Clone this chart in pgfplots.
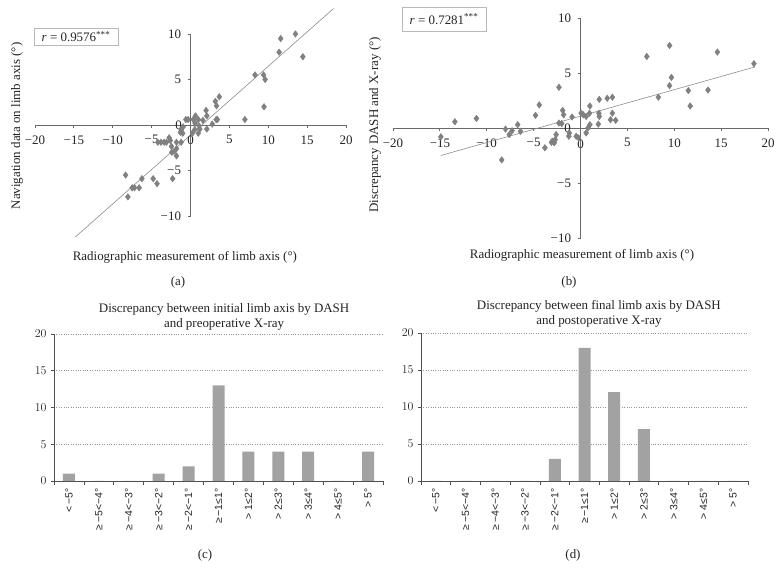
\documentclass[border=0pt]{standalone}
\usepackage{fontspec}
\setmainfont{Liberation Serif}
\newfontfamily\sansf{Liberation Sans}
\usepackage{pgfplots}
\pgfplotsset{compat=1.18}
\definecolor{mk}{RGB}{128,128,128}
\definecolor{axcol}{RGB}{105,105,105}
\definecolor{regcol}{RGB}{140,140,140}
\definecolor{boxcol}{RGB}{185,185,185}
\definecolor{barcol}{RGB}{162,162,162}
\definecolor{barax}{RGB}{80,80,80}
\definecolor{gridcol}{RGB}{150,150,150}
\definecolor{txt}{RGB}{35,35,35}
\pgfplotsset{
  scat/.style={
    scale only axis,
    xmin=-20, xmax=20, ymin=-10, ymax=10,
    axis lines=middle,
    axis line style={-, axcol, line width=0.8pt},
    xtick={-20,-15,...,20}, xticklabels={−20,−15,−10,−5,,5,10,15,20},
    ytick={-10,-5,0,5,10}, yticklabels={−10,−5,,5,10},
    xticklabel style={yshift=-3bp},
    yticklabel style={xshift=-2bp},
    tick align=outside, major tick length=3bp,
    tick style={axcol, line width=0.8pt},
    clip=false,
  },
  bars/.style={
    scale only axis,
    xmin=-0.5, xmax=10.5, ymin=0, ymax=20,
    axis x line=bottom, axis y line=left,
    axis line style={-, barax, line width=0.8pt},
    ytick={0,5,...,20},
    ymajorgrids, grid style={dotted, gridcol, line width=0.7pt},
    xtick={0,...,10},
    xticklabels={<\,−5°, ≥\,−5<−4°, ≥\,−4<−3°, ≥\,−3<−2°, ≥\,−2<−1°, ≥\,−1≤1°, > 1≤2°, > 2≤3°, > 3≤4°, > 4≤5°, > 5°},
    xticklabel style={rotate=90, anchor=east, font=\sansf\fontsize{10.5}{12}\selectfont},
    minor xtick={-0.5,0.5,...,10.5},
    major x tick style={draw=none},
    minor x tick style={barax, line width=0.8pt},
    y tick style={barax, line width=0.8pt},
    tick align=outside, major tick length=3bp, minor tick length=4bp,
    ybar, bar width=12bp,
  },
}
\begin{document}
\fontsize{13}{15.6}\selectfont
\begin{tikzpicture}[every node/.style={text=txt}]
\path[use as bounding box] (0,0) rectangle (783bp,580bp);

% ---------- (a) ----------
\begin{axis}[scat,
  at={(35bp,364bp)}, anchor=south west,
  width=311bp, height=182bp,
  every axis x label/.style={at={(axis description cs:0.482,-0.225)}, anchor=center},
  every axis y label/.style={at={(axis description cs:-0.058,0.495)}, anchor=center, rotate=90},
  xlabel={Radiographic measurement of limb axis (°)},
  ylabel={Navigation data on limb axis (°)},
]
\addplot[no marks, regcol, line width=0.6pt] coordinates {(-14.8,-12.3) (18.4,12.8)};
\addplot[only marks, mark=diamond*, mark size=3.3bp, mark options={draw=mk, fill=mk}] table {
x y
13.5 10
11.6 9.5
11.4 8.0
14.45 7.5
8.3 5.5
9.4 5.5
9.6 5.0
9.46 2.0
7.0 0.6
3.7 3.1
3.2 2.6
3.35 2.1
3.3 0.6
3.45 0.6
2.0 1.6
2.1 1.0
1.6 0.5
2.1 -0.45
2.8 0.1
0.64 1.0
0.35 0.6
1.0 0.6
0.6 0.2
1.1 -0.1
1.2 -0.45
0.55 -0.5
1.0 -0.9
0.25 -0.9
-0.3 0.6
-0.6 0.6
-0.95 -0.2
-1.2 -0.5
-1.0 -0.9
-1.3 -0.8
-2.75 -1.4
-2.6 -1.7
-3.8 -1.9
-3.4 -1.9
-3.1 -1.9
-4.2 -1.9
-1.8 -1.9
-1.2 -1.9
-2.45 -2.35
-1.8 -2.6
-2.1 -2.9
-2.4 -3.0
-1.8 -3.4
-2.3 -5.9
-4.8 -5.9
-4.3 -6.45
-6.25 -5.9
-6.6 -6.9
-7.5 -6.9
-7.2 -6.9
-8.35 -5.5
-8.05 -7.9
};
\node at (axis cs:0,0) [xshift=-12bp] {0};
\node at (axis cs:0,0) [yshift=-15bp] {0};
\end{axis}

% ---------- (b) ----------
\begin{axis}[scat,
  at={(393bp,342bp)}, anchor=south west,
  width=375bp, height=220bp,
  every axis x label/.style={at={(axis description cs:0.504,-0.077)}, anchor=center},
  every axis y label/.style={at={(axis description cs:-0.048,0.514)}, anchor=center, rotate=90},
  xlabel={Radiographic measurement of limb axis (°)},
  ylabel={Discrepancy DASH and X-ray (°)},
]
\addplot[no marks, regcol, line width=0.6pt] coordinates {(-14.9,-2.5) (18.6,5.55)};
\addplot[only marks, mark=diamond*, mark size=3.3bp, mark options={draw=mk, fill=mk}] table {
x y
18.5 5.85
14.6 6.9
9.5 7.5
7.07 6.5
9.7 4.6
9.5 3.85
11.5 3.4
13.6 3.45
11.7 2.0
8.3 2.8
3.4 2.8
2.85 2.7
2.0 2.6
3.4 1.35
3.2 0.75
3.75 0.7
1.96 1.35
2.0 1.05
1.9 0.35
1.0 2.0
0.96 1.35
0.6 1.05
0.07 1.35
0.3 1.2
1.0 0.3
0.8 0
0.6 -0.45
-0.2 -0.9
-0.46 -0.75
-0.9 1.0
-1.9 1.6
-1.8 1.2
-2.3 3.7
-2.3 0.45
-2.0 0.4
-1.2 -0.45
-1.25 -0.75
-2.6 -0.6
-2.7 -1.05
-3.0 -1.2
-3.1 -1.3
-2.8 -1.35
-3.8 -1.8
-4.4 2.1
-4.8 1.15
-6.4 -0.3
-6.7 0.3
-7.3 -0.25
-7.6 -0.6
-8.0 -0.1
-8.4 -2.9
-11.1 0.87
-13.4 0.57
-14.9 -0.8
};
\node at (axis cs:0,0) [xshift=-13bp] {0};
\node at (axis cs:0,0) [yshift=-16bp] {0};
\end{axis}

% ---------- (c) ----------
\begin{axis}[bars,
  at={(54bp,99bp)}, anchor=south west,
  width=329bp, height=147bp,
  title={Discrepancy between initial limb axis by DASH\\and preoperative X-ray},
  title style={at={(axis description cs:0.517,1.078)}, anchor=center, align=center, font=\fontsize{13}{15}\selectfont},
]
\addplot[fill=barcol, draw=none] coordinates {(0,1) (1,0) (2,0) (3,1) (4,2) (5,13) (6,4) (7,4) (8,4) (9,0) (10,4)};
\end{axis}

% ---------- (d) ----------
\begin{axis}[bars,
  at={(421bp,99bp)}, anchor=south west,
  width=327bp, height=148bp,
  title={Discrepancy between final limb axis by DASH\\and postoperative X-ray},
  title style={at={(axis description cs:0.544,1.092)}, anchor=center, align=center, font=\fontsize{13}{15}\selectfont},
]
\addplot[fill=barcol, draw=none] coordinates {(0,0) (1,0) (2,0) (3,0) (4,3) (5,18) (6,12) (7,7) (8,0) (9,0) (10,0)};
\end{axis}

% r boxes and panel letters
\node[draw=boxcol, line width=0.6pt, minimum width=84bp, minimum height=17bp, inner sep=0pt] at (76bp,543.5bp) {\textit{r} = 0.9576\textsuperscript{***}};
\node[draw=boxcol, line width=0.6pt, minimum width=84bp, minimum height=24bp, inner sep=0pt] at (444bp,561bp) {\textit{r} = 0.7281\textsuperscript{***}};
\node at (178bp,298bp) {(a)};
\node at (569bp,298bp) {(b)};
\node at (205bp,25bp) {(c)};
\node at (573bp,25bp) {(d)};
\end{tikzpicture}
\end{document}
